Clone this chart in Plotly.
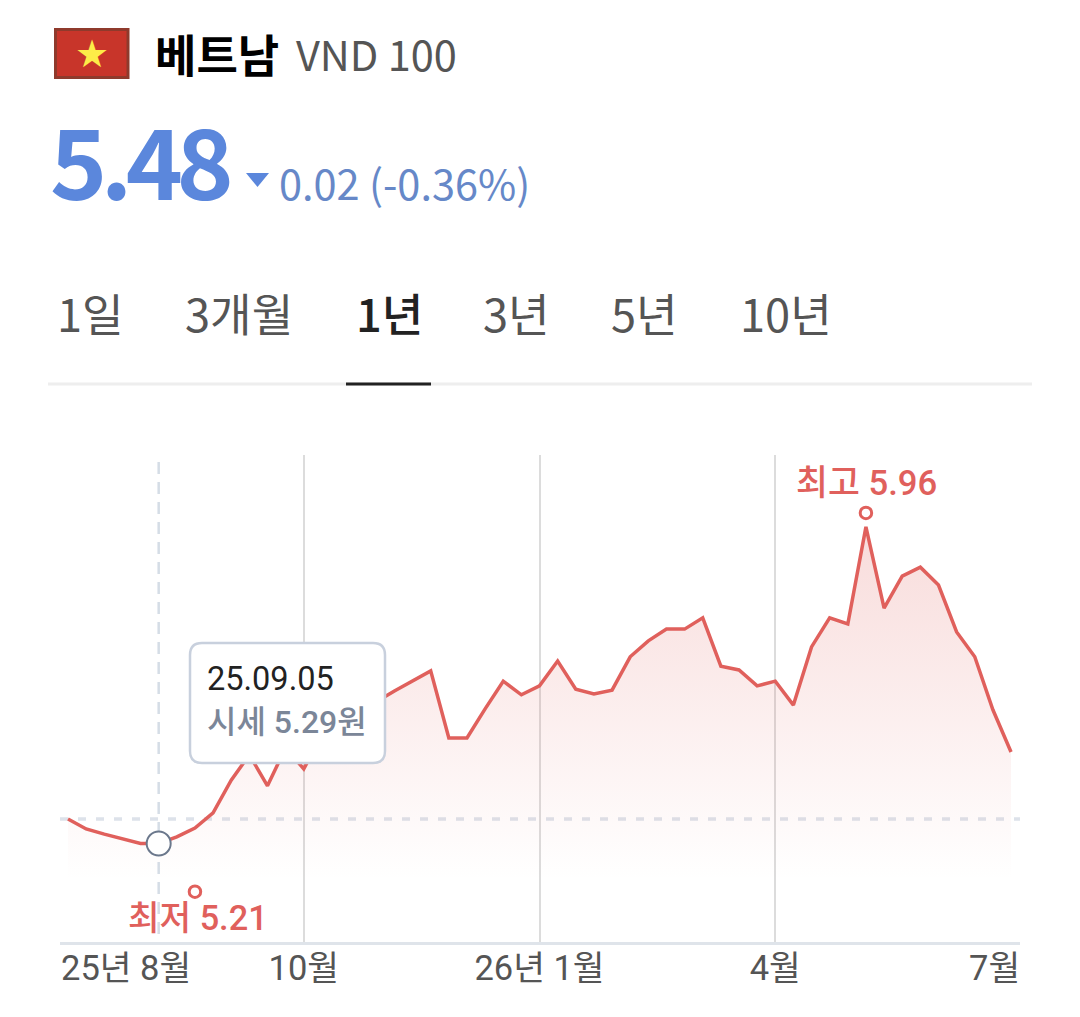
import plotly.graph_objects as go

# ---- data ----
week_index = list(range(53))
price = [5.337, 5.316, 5.305, 5.295, 5.285, 5.285, 5.299, 5.318, 5.350, 5.420,
         5.474, 5.408, 5.489, 5.444, 5.516, 5.544, 5.565, 5.587, 5.610, 5.631,
         5.653, 5.510, 5.510, 5.572, 5.631, 5.602, 5.621, 5.674, 5.614, 5.604,
         5.612, 5.683, 5.717, 5.742, 5.742, 5.766, 5.663, 5.655, 5.621, 5.631,
         5.580, 5.704, 5.766, 5.753, 5.96, 5.787, 5.855, 5.874, 5.836, 5.736,
         5.683, 5.570, 5.48]
fill_floor = 5.207
reference_price = 5.337
mid_tick_index = [13, 26, 39]
mid_tick_text = ["10월", "26년 1월", "4월"]
edge_tick_index = [0, 52]
edge_tick_text = ["25년 8월", "7월"]
hover_index = 5
hover_price = 5.29
hover_date = "25.09.05"
high_index = 44
high_price = 5.96
low_index = 7
low_price = 5.21
tabs = ["1일", "3개월", "1년", "3년", "5년", "10년"]
tab_left = [57, 185, 356, 483, 611, 740]
selected_tab = "1년"

W, H = 1080, 1017
KR = "Noto Sans CJK KR"
UI = "Roboto, Noto Sans CJK KR"
RED = "#e0605c"
BLUE = "#5b87dc"
INK = "#555555"


def px(x):
    return x / W


def py(y):
    return 1 - y / H


# plot rectangle in page pixels
L, R, T, B = 60, 1020, 455, 942
X0, DX = 68.0, 18.135      # pixels of week 0, pixels per week
Y_REF, DY = 752.0, 469.0   # pixel of 5.48, pixels per unit

fig = go.Figure()
fig.add_trace(go.Scatter(x=week_index, y=[fill_floor] * len(week_index), mode="lines",
                         line=dict(width=0), hoverinfo="skip", showlegend=False))
fig.add_trace(go.Scatter(x=week_index, y=price, mode="lines", fill="tonexty",
                         line=dict(color=RED, width=3.5, shape="linear"),
                         fillgradient=dict(type="vertical", start=fill_floor, stop=high_price,
                                           colorscale=[[0, "rgba(224,96,92,0)"],
                                                       [1, "rgba(224,96,92,0.22)"]]),
                         showlegend=False))
fig.add_trace(go.Scatter(x=[hover_index], y=[price[hover_index]], mode="markers",
                         marker=dict(size=24, color="white", line=dict(color="#6b788c", width=2)),
                         showlegend=False))
# small hollow markers sit a little off the extreme values, as in the picture
fig.add_trace(go.Scatter(x=[high_index, low_index],
                         y=[high_price + 14 / DY, low_price - 13 / DY], mode="markers",
                         marker=dict(size=11.5, color="white", line=dict(color=RED, width=3)),
                         showlegend=False))

shapes = [
    # flag
    dict(type="rect", xref="paper", yref="paper", x0=px(55.5), x1=px(128), y0=py(29.5), y1=py(77.5),
         fillcolor="#c8352a", line=dict(color="#8f3a2c", width=3), layer="above"),
    # change triangle
    dict(type="path", xref="paper", yref="paper",
         path=f"M {px(246)} {py(173)} L {px(269)} {py(173)} L {px(257.5)} {py(187)} Z",
         fillcolor=BLUE, line=dict(width=0)),
    # tab rule
    dict(type="line", xref="paper", yref="paper", x0=px(48), x1=px(1032), y0=py(384), y1=py(384),
         line=dict(color="#eeeeee", width=3)),
    dict(type="line", xref="paper", yref="paper", x0=px(346), x1=px(431), y0=py(384), y1=py(384),
         line=dict(color="#222222", width=3)),
    # reference and hover guides
    dict(type="line", xref="paper", yref="y", x0=px(L), x1=px(R), y0=reference_price, y1=reference_price,
         line=dict(color="#dde2ea", width=3.5, dash="8px,10px"), layer="below"),
    dict(type="line", xref="x", yref="paper", x0=hover_index, x1=hover_index, y0=py(462), y1=py(B),
         line=dict(color="#d5dde6", width=2.5, dash="12px,8px"), layer="below"),
]
# tooltip box (rounded)
bx0, bx1, by0, by1, r = 190, 385, 643, 763, 12
shapes.append(dict(
    type="path", xref="paper", yref="paper",
    path=(f"M {px(bx0 + r)} {py(by0)} L {px(bx1 - r)} {py(by0)} "
          f"Q {px(bx1)} {py(by0)} {px(bx1)} {py(by0 + r)} L {px(bx1)} {py(by1 - r)} "
          f"Q {px(bx1)} {py(by1)} {px(bx1 - r)} {py(by1)} L {px(bx0 + r)} {py(by1)} "
          f"Q {px(bx0)} {py(by1)} {px(bx0)} {py(by1 - r)} L {px(bx0)} {py(by0 + r)} "
          f"Q {px(bx0)} {py(by0)} {px(bx0 + r)} {py(by0)} Z"),
    fillcolor="white", line=dict(color="#c8d0dd", width=2.5), layer="above"))


def text(s, x, y, size, color, anchor="left", weight=400, family=KR):
    return dict(text=s, xref="paper", yref="paper", x=px(x), y=py(y), xanchor=anchor, yanchor="middle",
                showarrow=False, font=dict(family=family, size=size, color=color, weight=weight),
                borderpad=0, borderwidth=0)


ann = [
    text("★", 91.5, 54, 38, "#fdec48", "center", family="DejaVu Sans"),
    text("베트남", 155, 54, 45, "#000000", weight=700),
    text("VND 100", 296, 53, 41.5, INK),
    text("5.48", 37, 157, 97, BLUE, weight=700),
    text("0.02 (-0.36%)", 279, 182, 41.5, "#6688c8"),
    text(hover_date, 207, 679, 32.5, "#222222", family=UI),
    text(f"시세 {hover_price}원", 207, 722, 32, "#7b8698", weight=500, family=UI),
    text(f"최고 {high_price}", 796, 483, 34.7, RED, weight=500, family=UI),
    text(f"최저 {low_price}", 128, 918, 34.3, RED, weight=500, family=UI),
    text(edge_tick_text[0], 61, 968, 34.5, INK, family=UI),
    text(edge_tick_text[1], 1020, 968, 34.5, INK, "right", family=UI),
]
for label, left in zip(tabs, tab_left):
    on = label == selected_tab
    ann.append(text(label, left, 312, 45.2, "#222222" if on else INK, weight=500 if on else 400))

fig.update_layout(
    width=W, height=H, margin=dict(l=0, r=0, t=0, b=0),
    paper_bgcolor="white", plot_bgcolor="white", showlegend=False,
    shapes=shapes, annotations=ann,
    xaxis=dict(domain=[px(L), px(R)],
               range=[(L - X0) / DX, (R - X0) / DX],
               tickmode="array", tickvals=mid_tick_index, ticktext=mid_tick_text,
               showgrid=True, gridcolor="#dcdcdc", gridwidth=2,
               zeroline=False, showline=True, linecolor="#dfe4ea", linewidth=3,
               ticks="", ticklabelstandoff=-6,
               tickfont=dict(family=UI, size=34.5, color=INK)),
    yaxis=dict(domain=[py(B), py(T)],
               range=[5.48 + (Y_REF - B) / DY, 5.48 + (Y_REF - T) / DY],
               showgrid=False, zeroline=False, showticklabels=False, ticks=""),
)
post = """
document.body.style.margin='0';document.body.style.overflow='hidden';
document.querySelectorAll('.annotation-text').forEach(function(t){
  if(t.textContent==='5.48'){t.style.letterSpacing='-6.5px';}
});
"""
fig.write_html("out.html", post_script=post, config=dict(displayModeBar=False))
